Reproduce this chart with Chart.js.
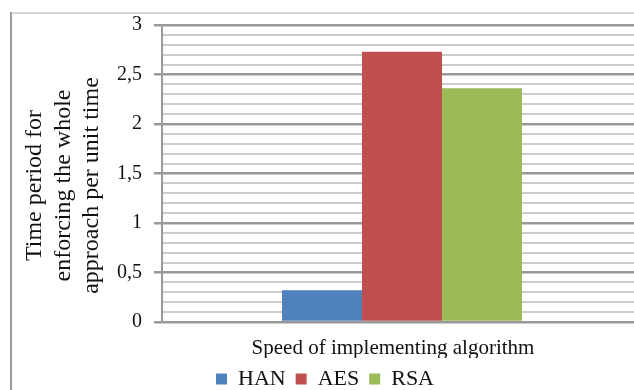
<!DOCTYPE html>
<html>
<head>
<meta charset="utf-8">
<script src="https://cdn.jsdelivr.net/npm/chart.js@4/dist/chart.umd.min.js"></script>
<style>
  html, body { margin: 0; padding: 0; background: #fff; overflow: hidden; }
  #wrap { position: absolute; left: 0; top: 0; width: 650px; height: 400px; }
</style>
</head>
<body>
<div id="wrap"><canvas id="c"></canvas></div>
<script>
// Category and series values
const categories = ['Speed of implementing algorithm'];
const seriesNames = ['HAN', 'AES', 'RSA'];
const hanValues = [0.32];
const aesValues = [2.73];
const rsaValues = [2.36];
const seriesValues = [hanValues, aesValues, rsaValues];
const seriesColors = ['#4f81bd', '#c0504d', '#9bbb59'];

// Value axis: 0..3, labelled every 0.5, minor rules every 0.1
const yMin = 0;
const yMax = 3;
const yMinorStep = 0.1;
const yTitleLines = ['Time period for    ', 'enforcing the whole    ', 'approach per unit time    '];

const serif = "'Liberation Serif', 'Times New Roman', serif";
const textColor = '#111';
const isMajor = v => Math.abs(v * 2 - Math.round(v * 2)) < 1e-6;

// Thin outer frame along the left and top edges of the chart box
const framePlugin = {
  id: 'frame',
  beforeDraw(chart) {
    const ctx = chart.ctx;
    ctx.save();
    ctx.fillStyle = '#d6d6d6';
    ctx.fillRect(10, 12, chart.width - 10, 2);
    ctx.fillStyle = '#9a9a9a';
    ctx.fillRect(10, 12, 2, chart.height - 12);
    ctx.restore();
  }
};

new Chart(document.getElementById('c'), {
  type: 'bar',
  data: {
    labels: categories,
    datasets: seriesNames.map((name, i) => ({
      label: name,
      data: seriesValues[i],
      backgroundColor: seriesColors[i],
      borderWidth: 0,
      barPercentage: 1,
      categoryPercentage: 0.5
    }))
  },
  options: {
    responsive: true,
    maintainAspectRatio: false,
    animation: false,
    events: [],
    layout: { padding: { left: 8, right: 8, top: 25, bottom: 0 } },
    plugins: {
      tooltip: { enabled: false },
      legend: {
        position: 'bottom',
        labels: {
          font: { family: serif, size: 22 },
          color: textColor,
          boxWidth: 11,
          boxHeight: 11,
          padding: 10
        }
      }
    },
    scales: {
      x: {
        offset: true,
        grid: { display: false, drawTicks: false },
        border: { display: true, color: '#999999', width: 2 },
        ticks: {
          font: { family: serif, size: 21 },
          color: textColor,
          padding: 14,
          labelOffset: -9,
          maxRotation: 0
        },
        afterFit(s) { s.height = 36; }
      },
      y: {
        min: yMin,
        max: yMax,
        border: { display: true, color: '#999999', width: 2 },
        grid: {
          color: c => isMajor(c.tick.value) ? '#999999' : '#cccccc',
          lineWidth: c => isMajor(c.tick.value) ? 2.5 : 2,
          tickColor: c => isMajor(c.tick.value) ? '#999999' : 'rgba(0,0,0,0)',
          tickLength: 8
        },
        ticks: {
          stepSize: yMinorStep,
          autoSkip: false,
          padding: 12,
          font: { family: serif, size: 20 },
          color: textColor,
          callback: v => isMajor(v) ? String(Math.round(v * 10) / 10).replace('.', ',') : ''
        },
        title: {
          display: true,
          text: yTitleLines,
          font: { family: serif, size: 24, lineHeight: 1.18 },
          color: textColor,
          padding: { top: 13, bottom: 0 }
        },
        afterFit(s) { s.width = 154; }
      }
    }
  },
  plugins: [framePlugin]
});
</script>
</body>
</html>
